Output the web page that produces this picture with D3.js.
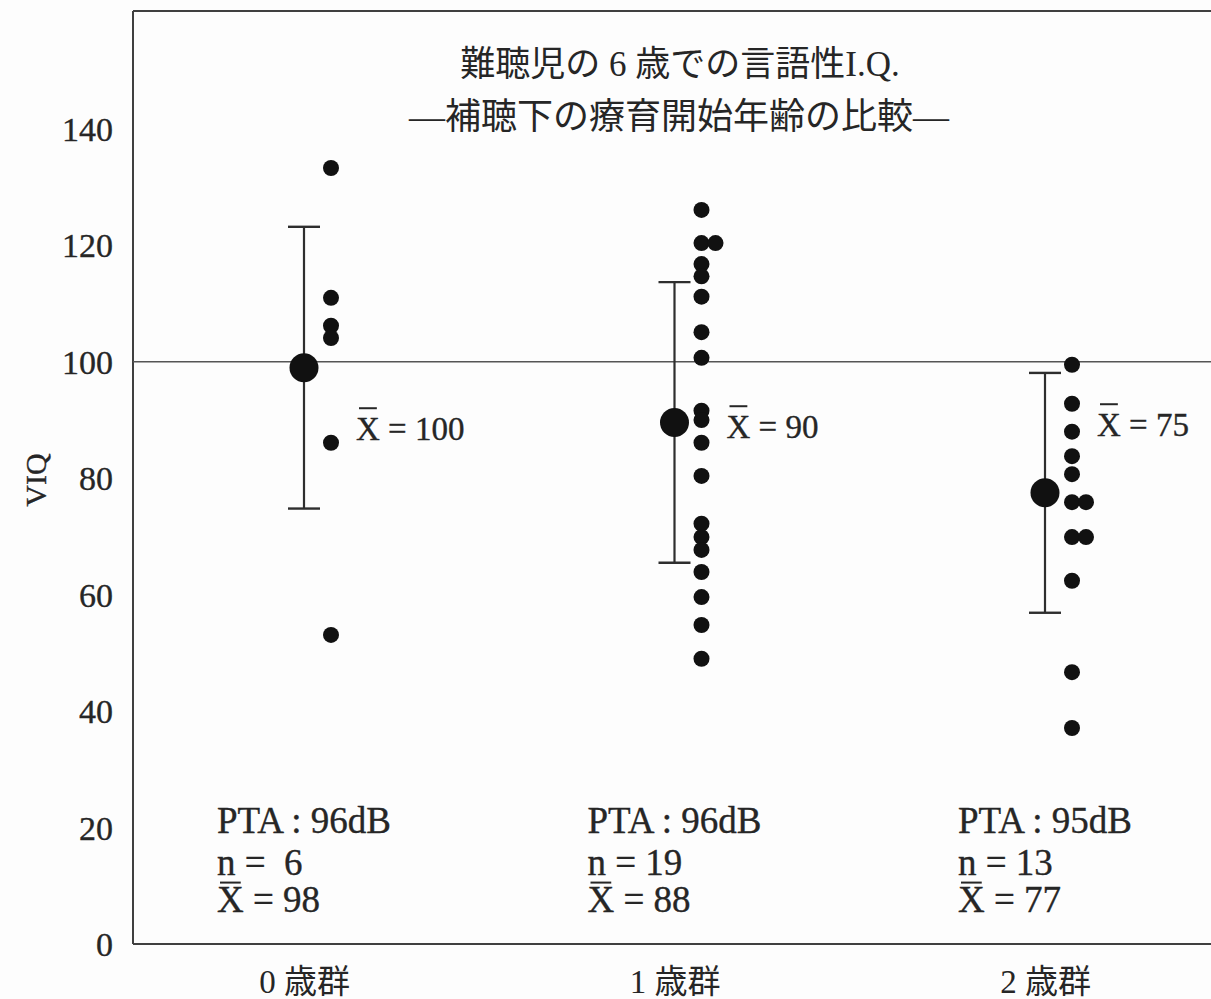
<!DOCTYPE html>
<html>
<head>
<meta charset="utf-8">
<script src="https://cdn.jsdelivr.net/npm/d3@7/dist/d3.min.js"></script>
<style>
  html, body { margin: 0; padding: 0; background: #fdfdfd; }
  svg { display: block; }
  text { font-family: "Liberation Serif", "Noto Sans CJK JP", serif; fill: #262626; white-space: pre; }
  .ser { stroke: #262626; stroke-width: 0.35px; }
</style>
</head>
<body>
<svg id="chart" width="1211" height="999"></svg>
<script>
// ---- data ----
const categories = ["0 歳群", "1 歳群", "2 歳群"];
const group0 = [133.3, 111.0, 106.2, 104.1, 86.1, 53.1];
const group1 = [126.1, 120.4, 120.4, 116.8, 114.7, 111.2, 105.1, 100.7, 91.6, 90.0, 86.1, 80.4, 72.2, 69.9, 67.7, 63.9, 59.6, 54.8, 49.0];
const group2 = [99.5, 92.8, 88.0, 83.8, 80.7, 75.9, 75.9, 69.9, 69.9, 62.4, 46.7, 37.1];
const groupValues = [group0, group1, group2];
const means = [99.0, 89.6, 77.5];
const sds = [24.2, 24.1, 20.6];
const meanLabels = ["100", "90", "75"];
const ptaLabels = ["96dB", "96dB", "95dB"];
const nLabels = [" 6", "19", "13"];
const statMeanLabels = ["98", "88", "77"];
const yTicks = [0, 20, 40, 60, 80, 100, 120, 140];
const referenceValue = 100;
const titleLines = ["難聴児の 6 歳での言語性I.Q.", "—補聴下の療育開始年齢の比較—"];
const yLabel = "VIQ";

(function draw() {
  const svg = d3.select("#chart");
  const mLeft = 133, mTop = 11, mBottom = 944, mRight = 1211;

  const y = d3.scaleLinear().domain([0, 140]).range([944, 129]);
  const x = d3.scalePoint().domain(categories).range([304, 1045]);

  const lineColor = "#404040";

  // frame
  svg.append("line").attr("x1", mLeft).attr("x2", mRight).attr("y1", mTop).attr("y2", mTop)
    .attr("stroke", lineColor).attr("stroke-width", 2);
  svg.append("line").attr("x1", mLeft).attr("x2", mLeft).attr("y1", mTop).attr("y2", mBottom)
    .attr("stroke", lineColor).attr("stroke-width", 2);
  svg.append("line").attr("x1", mLeft).attr("x2", mRight).attr("y1", mBottom).attr("y2", mBottom)
    .attr("stroke", lineColor).attr("stroke-width", 2);

  // reference line at 100
  svg.append("line").attr("x1", mLeft).attr("x2", mRight)
    .attr("y1", y(referenceValue)).attr("y2", y(referenceValue))
    .attr("stroke", "#555").attr("stroke-width", 1.5);

  // y axis (labels only)
  const yAxis = d3.axisLeft(y).tickValues(yTicks).tickSize(0).tickPadding(20);
  const gy = svg.append("g").attr("transform", `translate(${mLeft},0)`).call(yAxis);
  gy.select(".domain").remove();
  gy.selectAll("text").attr("class", "ser").style("font-size", "34px")
    .style("font-family", "'Liberation Serif', serif")
    .attr("fill", "#262626").attr("dy", "0.34em");

  // x axis labels
  const xAxis = d3.axisBottom(x).tickSize(0).tickPadding(0);
  const gx = svg.append("g").attr("transform", `translate(0,${mBottom})`).call(xAxis);
  gx.select(".domain").remove();
  gx.selectAll("text").style("font-size", "33px")
    .style("font-family", "'Liberation Serif', 'Noto Sans CJK JP', serif")
    .attr("fill", "#262626").attr("y", 49).attr("dy", 0);

  // y label
  svg.append("text").attr("class", "ser").attr("transform", "translate(46,480) rotate(-90)")
    .attr("text-anchor", "middle").style("font-size", "30px").text(yLabel);

  // title
  svg.append("text").attr("x", 680).attr("y", 76).attr("text-anchor", "middle")
    .style("font-size", "35px").text(titleLines[0]);
  svg.append("text").attr("x", 679).attr("y", 129).attr("text-anchor", "middle")
    .style("font-size", "36px").text(titleLines[1]);

  // helper: overline over the first character of a text element
  function overlineFirst(textSel, fs, gap) {
    const node = textSel.node();
    const ext = node.getExtentOfChar(0);
    const base = +textSel.attr("y");
    const yy = base - 0.66 * fs - gap;
    svg.append("line").attr("x1", ext.x + 3).attr("x2", ext.x + ext.width - 3)
      .attr("y1", yy).attr("y2", yy).attr("stroke", "#262626").attr("stroke-width", 2);
  }

  // groups
  const dotR = 8, meanR = 14.5, capHalf = 16, col0 = 27, colStep = 14;
  categories.forEach((cat, i) => {
    const cx = x(cat);
    const g = svg.append("g");
    // error bar
    g.append("line").attr("x1", cx).attr("x2", cx)
      .attr("y1", y(means[i] + sds[i])).attr("y2", y(means[i] - sds[i]))
      .attr("stroke", "#2e2e2e").attr("stroke-width", 2.2);
    [means[i] + sds[i], means[i] - sds[i]].forEach(v => {
      g.append("line").attr("x1", cx - capHalf).attr("x2", cx + capHalf)
        .attr("y1", y(v)).attr("y2", y(v)).attr("stroke", "#2e2e2e").attr("stroke-width", 2.4);
    });
    // mean
    g.append("circle").attr("cx", cx).attr("cy", y(means[i])).attr("r", meanR).attr("fill", "#111");
    // points (duplicates side by side)
    const seen = {};
    const pts = groupValues[i].map(v => {
      const k = v.toFixed(1);
      const c = seen[k] || 0;
      seen[k] = c + 1;
      return { v, c };
    });
    g.selectAll("circle.pt").data(pts).enter().append("circle").attr("class", "pt")
      .attr("cx", d => cx + col0 + d.c * colStep).attr("cy", d => y(d.v))
      .attr("r", dotR).attr("fill", "#111");

    // mean annotation
    const annFs = 33;
    const ann = g.append("text").attr("class", "ser").attr("x", cx + 52).attr("y", 440 - i * 2)
      .style("font-size", annFs + "px").text("X = " + meanLabels[i]);
    overlineFirst(ann, annFs, 10);

    // stats block
    const bx = cx - 87, fs = 37;
    g.append("text").attr("class", "ser").attr("x", bx).attr("y", 833).style("font-size", fs + "px")
      .text("PTA : " + ptaLabels[i]);
    g.append("text").attr("class", "ser").attr("x", bx).attr("y", 875).style("font-size", fs + "px")
      .text("n = " + nLabels[i]);
    const st = g.append("text").attr("class", "ser").attr("x", bx).attr("y", 912)
      .style("font-size", fs + "px").text("X = " + statMeanLabels[i]);
    overlineFirst(st, fs, 5);
  });
})();
</script>
</body>
</html>
